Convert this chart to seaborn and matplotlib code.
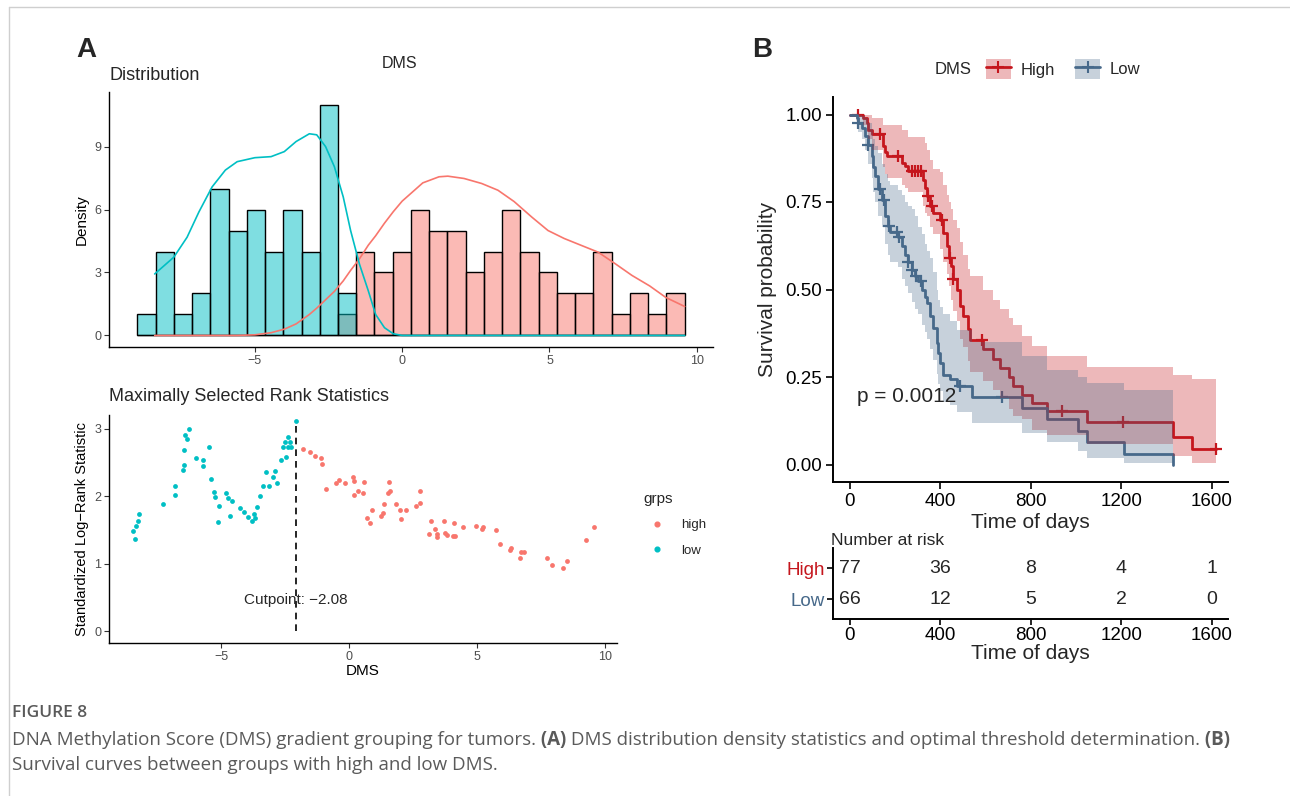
import numpy as np
import pandas as pd
import matplotlib
matplotlib.use("Agg")
import matplotlib.pyplot as plt
import matplotlib.colors as mcolors
import seaborn as sns
from matplotlib.lines import Line2D
from matplotlib.patches import Patch

# ---------------- data: panel A, histogram ----------------
bin_start = -8.99
bin_width = 0.6193
low_counts = [1, 4, 1, 2, 7, 5, 6, 4, 6, 4, 11, 2,
              0, 0, 0, 0, 0, 0, 0, 0, 0, 0, 0, 0, 0, 0, 0, 0, 0, 0]
high_counts = [0, 0, 0, 0, 0, 0, 0, 0, 0, 0, 0, 1,
               4, 3, 4, 6, 5, 5, 3, 4, 6, 4, 3, 2, 2, 4, 1, 2, 1, 2]

kde_x = [-8.4, -7.75, -7.3, -6.9, -6.45, -6.0, -5.6, -5.0, -4.45, -4.0,
         -3.6, -3.15, -2.9, -2.6, -2.3, -2.0, -1.75, -1.45, -1.15, -0.9,
         -0.6, -0.3, 0.0, 0.7, 1.25, 1.55, 2.1, 2.7, 3.25, 3.8,
         4.4, 4.95, 5.5, 6.1, 6.65, 7.25, 7.8, 8.4, 8.95, 9.59]
kde_low = [2.93, 3.73, 4.68, 5.88, 7.08, 7.88, 8.28, 8.47, 8.52, 8.76,
           9.24, 9.61, 9.56, 9.0, 8.04, 6.6, 5.0, 3.4, 2.13, 1.0,
           0.37, 0.08, 0.0, 0.0, 0.0, 0.0, 0.0, 0.0, 0.0, 0.0,
           0.0, 0.0, 0.0, 0.0, 0.0, 0.0, 0.0, 0.0, 0.0, 0.0]
kde_high = [0.0, 0.0, 0.0, 0.0, 0.0, 0.0, 0.0, 0.03, 0.13, 0.3,
            0.55, 1.0, 1.3, 1.7, 2.1, 2.6, 3.1, 3.65, 4.3, 4.75,
            5.35, 5.9, 6.4, 7.27, 7.56, 7.59, 7.48, 7.24, 6.92, 6.38,
            5.64, 5.0, 4.62, 4.28, 3.97, 3.40, 2.86, 2.36, 1.81, 1.38]

# ---------------- data: panel A, maxstat ----------------
low_x = [-8.46, -8.37, -8.34, -8.28, -8.21, -7.29, -6.83, -6.80, -6.50, -6.47,
         -6.45, -6.42, -6.34, -6.26, -6.01, -5.73, -5.71, -5.47, -5.39, -5.30,
         -5.27, -5.12, -5.09, -4.81, -4.73, -4.68, -4.58, -4.29, -4.11, -3.97,
         -3.79, -3.74, -3.68, -3.60, -3.50, -3.38, -3.25, -3.15, -2.97, -2.89,
         -2.81, -2.68, -2.58, -2.53, -2.46, -2.41, -2.38, -2.30, -2.27, -2.10]
low_y = [1.48, 1.36, 1.56, 1.64, 1.73, 1.88, 2.02, 2.15, 2.39, 2.46,
         2.68, 2.91, 2.84, 2.99, 2.56, 2.44, 2.54, 2.72, 2.25, 2.06,
         1.99, 1.62, 1.85, 2.04, 1.97, 1.71, 1.93, 1.83, 1.76, 1.69,
         1.64, 1.74, 1.68, 1.84, 2.01, 2.15, 2.36, 2.15, 2.29, 2.37,
         2.20, 2.53, 2.73, 2.80, 2.58, 2.72, 2.88, 2.80, 2.72, 3.11]
high_x = [-1.81, -1.53, -1.35, -1.12, -1.08, -0.90, -0.51, -0.39, -0.15, 0.13,
          0.18, 0.18, 0.36, 0.53, 0.59, 0.69, 0.80, 0.90, 1.23, 1.33,
          1.36, 1.53, 1.56, 1.59, 1.82, 1.99, 2.04, 2.23, 2.63, 2.78,
          2.79, 3.12, 3.22, 3.35, 3.42, 3.43, 3.71, 3.74, 3.84, 4.06,
          4.12, 4.14, 4.45, 4.96, 5.19, 5.25, 5.73, 5.90, 6.31, 6.34,
          6.67, 6.72, 6.83, 7.73, 7.93, 8.36, 8.52, 9.26, 9.59]
high_y = [2.70, 2.65, 2.60, 2.57, 2.48, 2.10, 2.20, 2.24, 2.20, 2.29,
          2.23, 2.02, 2.08, 2.04, 2.21, 1.68, 1.60, 1.80, 1.70, 1.75,
          1.89, 2.04, 2.21, 2.07, 1.89, 1.79, 1.67, 1.79, 1.86, 2.08,
          1.90, 1.44, 1.63, 1.52, 1.44, 1.40, 1.63, 1.45, 1.43, 1.41,
          1.61, 1.41, 1.54, 1.56, 1.51, 1.55, 1.50, 1.29, 1.20, 1.24,
          1.09, 1.17, 1.17, 1.08, 0.99, 0.94, 1.04, 1.35, 1.54]
cutpoint = -2.08

# ---------------- data: panel B, Kaplan-Meier ----------------
high_time = [0, 59, 74, 81, 96, 148, 155, 162, 229, 243,
             258, 324, 331, 339, 354, 368, 398, 413, 427, 437,
             447, 457, 472, 486, 501, 523, 530, 588, 632, 663,
             705, 722, 759, 803, 870, 1046, 1429, 1514, 1618]
high_surv = [1.0, 0.99, 0.976, 0.957, 0.943, 0.910, 0.893, 0.881, 0.862, 0.852,
             0.838, 0.814, 0.790, 0.767, 0.738, 0.719, 0.700, 0.662, 0.624, 0.590,
             0.567, 0.529, 0.500, 0.452, 0.424, 0.386, 0.357, 0.329, 0.302, 0.276,
             0.250, 0.224, 0.200, 0.176, 0.152, 0.121, 0.079, 0.043, 0.043]
high_upper = [1.0, 1.0, 1.0, 1.0, 0.99, 0.97, 0.97, 0.97, 0.955, 0.955,
              0.935, 0.935, 0.92, 0.90, 0.87, 0.845, 0.835, 0.80, 0.77, 0.75,
              0.73, 0.70, 0.675, 0.635, 0.60, 0.56, 0.54, 0.50, 0.47, 0.443,
              0.42, 0.40, 0.367, 0.338, 0.31, 0.279, 0.257, 0.245, 0.245]
high_lower = [1.0, 0.97, 0.95, 0.93, 0.90, 0.85, 0.83, 0.82, 0.80, 0.79,
              0.78, 0.74, 0.72, 0.71, 0.68, 0.66, 0.615, 0.58, 0.545, 0.51,
              0.47, 0.44, 0.41, 0.36, 0.335, 0.295, 0.265, 0.24, 0.214, 0.19,
              0.16, 0.14, 0.129, 0.10, 0.085, 0.06, 0.025, 0.005, 0.005]
high_censor = [34, 133, 214, 273, 288, 302, 312, 347, 362, 406, 442, 457, 583, 936, 1208, 1618]

low_time = [0, 30, 37, 52, 66, 81, 96, 103, 110, 125,
            140, 155, 170, 177, 214, 229, 243, 255, 272, 287,
            300, 317, 330, 339, 354, 368, 383, 390, 398, 413,
            440, 475, 538, 759, 870, 1009, 1046, 1211, 1426]
low_surv = [1.0, 0.99, 0.976, 0.962, 0.938, 0.914, 0.881, 0.85, 0.824, 0.786,
            0.757, 0.71, 0.68, 0.663, 0.65, 0.624, 0.60, 0.58, 0.557, 0.54,
            0.525, 0.50, 0.48, 0.462, 0.424, 0.39, 0.348, 0.32, 0.29, 0.257,
            0.245, 0.224, 0.193, 0.162, 0.129, 0.095, 0.064, 0.03, 0.0]
low_upper = [1.0, 1.0, 1.0, 0.995, 0.99, 0.975, 0.96, 0.93, 0.91, 0.89,
             0.86, 0.83, 0.81, 0.80, 0.785, 0.77, 0.75, 0.74, 0.73, 0.71,
             0.68, 0.66, 0.63, 0.61, 0.59, 0.55, 0.50, 0.47, 0.45, 0.43,
             0.41, 0.385, 0.35, 0.31, 0.27, 0.25, 0.233, 0.213, 0.213]
low_lower = [1.0, 0.97, 0.95, 0.93, 0.90, 0.86, 0.82, 0.78, 0.75, 0.71,
             0.68, 0.63, 0.60, 0.58, 0.565, 0.53, 0.51, 0.49, 0.465, 0.445,
             0.43, 0.40, 0.38, 0.36, 0.33, 0.30, 0.26, 0.23, 0.21, 0.18,
             0.17, 0.15, 0.12, 0.09, 0.065, 0.04, 0.02, 0.005, 0.0]
low_censor = [37, 81, 133, 150, 172, 207, 218, 258, 273, 290, 312, 487, 672]

risk_times = [0, 400, 800, 1200, 1600]
risk_high = [77, 36, 8, 4, 1]
risk_low = [66, 12, 5, 2, 0]
p_value_text = "p = 0.0012"

caption_title = "FIGURE 8"
caption_line1 = [("DNA Methylation Score (DMS) gradient grouping for tumors.", "normal"),
                 (" (A)", "bold"),
                 (" DMS distribution density statistics and optimal threshold determination.", "normal"),
                 (" (B)", "bold")]
caption_line2 = [("Survival curves between groups with high and low DMS.", "normal")]

# ---------------- style ----------------
sns.set_theme(style="white")
plt.rcParams["font.family"] = ["Liberation Sans", "DejaVu Sans"]
plt.rcParams["axes.unicode_minus"] = True

C_HIGH = "#F8766D"
C_LOW = "#00BFC4"
KM_HIGH = "#C5161D"
KM_LOW = "#47698A"
GREY_TXT = "#4D4D4D"

W, H = 1290, 796
fig = plt.figure(figsize=(W / 100, H / 100), dpi=100)
fig.patch.set_facecolor("white")


def add_ax(l, t, r, b):
    return fig.add_axes([l / W, 1 - b / H, (r - l) / W, (b - t) / H])


def fx(px):
    return px / W


def fy(py):
    return 1 - py / H


def style_ggclassic(ax, lw=1.0, tick_color=GREY_TXT, tick_size=9):
    for s in ["top", "right"]:
        ax.spines[s].set_visible(False)
    for s in ["left", "bottom"]:
        ax.spines[s].set_color("black")
        ax.spines[s].set_linewidth(lw)
    ax.tick_params(axis="both", which="both", direction="out", length=3.5, width=lw * 0.8,
                   color="#333333", labelcolor=tick_color, labelsize=tick_size, pad=2,
                   bottom=True, left=True)
    ax.grid(False)
    ax.set_facecolor("white")


# ---------------- panel A: histogram ----------------
ax1 = add_ax(109, 92, 713, 347)
edges = [bin_start + bin_width * i for i in range(len(low_counts) + 1)]
centers = [(edges[i] + edges[i + 1]) / 2 for i in range(len(low_counts))]
hist_df = pd.DataFrame({"center": centers, "high": high_counts, "low": low_counts})
sns.histplot(data=hist_df, x="center", weights="high", bins=edges, color=C_HIGH, alpha=0.5,
             edgecolor="black", linewidth=1.0, ax=ax1)
sns.histplot(data=hist_df, x="center", weights="low", bins=edges, color=C_LOW, alpha=0.5,
             edgecolor="black", linewidth=1.0, ax=ax1)
sns.lineplot(x=kde_x, y=kde_high, color=C_HIGH, lw=1.2, estimator=None, sort=False, ax=ax1)
sns.lineplot(x=kde_x, y=kde_low, color=C_LOW, lw=1.2, estimator=None, sort=False, ax=ax1)
ax1.set_xlim(-9.95, 10.55)
ax1.set_ylim(-0.55, 11.6)
ax1.set_xticks([-5, 0, 5, 10])
ax1.set_yticks([0, 3, 6, 9])
style_ggclassic(ax1)
ax1.set_xlabel("")
ax1.set_ylabel("Density", fontsize=11, color="black", labelpad=4)
ax1.set_title("Distribution", loc="left", fontsize=13, pad=9, x=0.0)
fig.text(fx(400), fy(63), "DMS", ha="center", va="center", fontsize=11.5)
fig.text(fx(86), fy(50), "A", ha="center", va="center", fontsize=20, fontweight="bold")

# ---------------- panel A: maxstat ----------------
ax2 = add_ax(109, 415, 617, 643)
sns.scatterplot(x=high_x, y=high_y, color=C_HIGH, s=12, linewidth=0, ax=ax2, legend=False)
sns.scatterplot(x=low_x, y=low_y, color=C_LOW, s=12, linewidth=0, ax=ax2, legend=False)
ymax_stat = max(max(low_y), max(high_y))
ax2.plot([cutpoint, cutpoint], [0, ymax_stat], color="black", lw=1.2, ls=(0, (4, 3)))
ax2.text(cutpoint, 0.47, "Cutpoint: " + f"{cutpoint:.2f}".replace("-", "\u2212"),
         ha="center", va="center", fontsize=11)
ax2.set_xlim(-9.4, 10.48)
ax2.set_ylim(-0.17, 3.2)
ax2.set_xticks([-5, 0, 5, 10])
ax2.set_yticks([0, 1, 2, 3])
style_ggclassic(ax2)
ax2.set_xlabel("DMS", fontsize=11, color="black", labelpad=1)
ax2.set_ylabel("Standardized Log\u2212Rank Statistic", fontsize=10.5, color="black", labelpad=4)
ax2.set_title("Maximally Selected Rank Statistics", loc="left", fontsize=13, pad=10, x=0.0)
leg_handles = [Line2D([0], [0], marker="o", ls="", color=C_HIGH, markersize=3.4),
               Line2D([0], [0], marker="o", ls="", color=C_LOW, markersize=3.4)]
leg2 = ax2.legend(leg_handles, ["high", "low"], title="grps", loc="upper left",
                  bbox_to_anchor=(fx(632), fy(480)), bbox_transform=fig.transFigure,
                  frameon=False, fontsize=9.5, title_fontsize=11, handletextpad=0.8,
                  labelspacing=1.0, alignment="left")

# ---------------- panel B: KM ----------------
ax3 = add_ax(833, 97, 1228, 482)
groups = [(high_time, high_surv, high_lower, high_upper, high_censor, KM_HIGH),
          (low_time, low_surv, low_lower, low_upper, low_censor, KM_LOW)]
for t, s, lo, up, cens, col in groups:
    sns.lineplot(x=t, y=s, drawstyle="steps-post", color=col, lw=2.0,
                 estimator=None, sort=False, ax=ax3, zorder=2)
    t_arr = np.asarray(t)
    s_arr = np.asarray(s)
    idx = np.searchsorted(t_arr, np.asarray(cens), side="right") - 1
    ax3.plot(cens, s_arr[idx], ls="", marker="+", ms=9, mew=1.6, color=col, zorder=2)
for t, s, lo, up, cens, col in groups:
    ax3.fill_between(t, lo, up, step="post", color=col, alpha=0.3, lw=0, zorder=3)
ax3.text(31, 0.194, p_value_text, fontsize=15, ha="left", va="center", zorder=4)
ax3.set_xlim(-75, 1671)
ax3.set_ylim(-0.05, 1.05)
ax3.set_xticks(risk_times)
ax3.set_yticks([0, 0.25, 0.5, 0.75, 1.0])
ax3.set_yticklabels(["0.00", "0.25", "0.50", "0.75", "1.00"])
for s in ["top", "right"]:
    ax3.spines[s].set_visible(False)
for s in ["left", "bottom"]:
    ax3.spines[s].set_color("black")
    ax3.spines[s].set_linewidth(1.4)
ax3.tick_params(axis="both", direction="out", length=5, width=1.2, color="black",
                labelcolor="black", labelsize=13.5, pad=3, bottom=True, left=True)
ax3.grid(False)
ax3.set_xlabel("Time of days", fontsize=15, labelpad=2)
ax3.set_ylabel("Survival probability", fontsize=15, labelpad=6)
fig.text(fx(762), fy(50), "B", ha="center", va="center", fontsize=20, fontweight="bold")

# legend of KM
fig.text(fx(935), fy(69), "DMS", ha="left", va="center", fontsize=12)
km_handles = [(Patch(facecolor=mcolors.to_rgba(KM_HIGH, 0.3), edgecolor="none"),
               Line2D([0], [0], color=KM_HIGH, lw=2, marker="+", ms=8, mew=1.5)),
              (Patch(facecolor=mcolors.to_rgba(KM_LOW, 0.3), edgecolor="none"),
               Line2D([0], [0], color=KM_LOW, lw=2, marker="+", ms=8, mew=1.5))]
fig.legend(km_handles, ["High", "Low"], loc="center left",
           bbox_to_anchor=(fx(974), fy(69)), ncol=2, frameon=False, fontsize=12,
           handlelength=1.5, handleheight=1.5, handletextpad=0.6, columnspacing=1.2,
           borderpad=0.2)

# ---------------- panel B: risk table ----------------
ax4 = add_ax(833, 548, 1228, 619)
for tt, nh, nl in zip(risk_times, risk_high, risk_low):
    ax4.text(tt, 1, str(nh), ha="center", va="center", fontsize=14)
    ax4.text(tt, 0, str(nl), ha="center", va="center", fontsize=14)
ax4.set_xlim(-75, 1671)
ax4.set_ylim(-0.64, 1.65)
ax4.set_xticks(risk_times)
ax4.set_yticks([1, 0])
ax4.set_yticklabels(["High", "Low"])
for lab, col in zip(ax4.get_yticklabels(), [KM_HIGH, KM_LOW]):
    lab.set_color(col)
for s in ["top", "right"]:
    ax4.spines[s].set_visible(False)
for s in ["left", "bottom"]:
    ax4.spines[s].set_color("black")
    ax4.spines[s].set_linewidth(1.4)
ax4.tick_params(axis="both", direction="out", length=4, width=1.2, color="black",
                labelsize=13.5, pad=2, bottom=True, left=True)
ax4.tick_params(axis="x", labelcolor="black")
ax4.grid(False)
ax4.set_xlabel("Time of days", fontsize=15, labelpad=0)
ax4.set_title("Number at risk", loc="left", fontsize=12.5, pad=2, x=-0.005)

# ---------------- frame and caption ----------------
fig.add_artist(Line2D([fx(9), 1], [fy(7), fy(7)], transform=fig.transFigure,
                      color="#CFCFCF", lw=1.0))
fig.add_artist(Line2D([fx(9), fx(9)], [0, fy(7)], transform=fig.transFigure,
                      color="#CFCFCF", lw=1.0))

cap_ax = fig.add_axes([0, 0, 1, 1], zorder=-1)
cap_ax.axis("off")
CAP_FONT = ["Open Sans", "DejaVu Sans"]
CAP_COL = "#5A5A5A"
cap_ax.text(fx(12), fy(713), caption_title, fontsize=12.5, color=CAP_COL, family=CAP_FONT,
            fontweight="semibold", ha="left", va="center", transform=cap_ax.transAxes)


def rich_line(x, y, parts, size):
    first = cap_ax.text(x, y, parts[0][0], fontsize=size, color=CAP_COL, family=CAP_FONT,
                        fontweight=parts[0][1], ha="left", va="center",
                        transform=cap_ax.transAxes)
    prev = first
    for txt, w in parts[1:]:
        prev = cap_ax.annotate(txt, xy=(1, 0.5), xycoords=prev, fontsize=size,
                               color=CAP_COL, family=CAP_FONT, fontweight=w,
                               ha="left", va="center")


rich_line(fx(12), fy(740), caption_line1, 13.5)
rich_line(fx(12), fy(765), caption_line2, 13.5)

fig.savefig("out.png", dpi=100, facecolor="white")
